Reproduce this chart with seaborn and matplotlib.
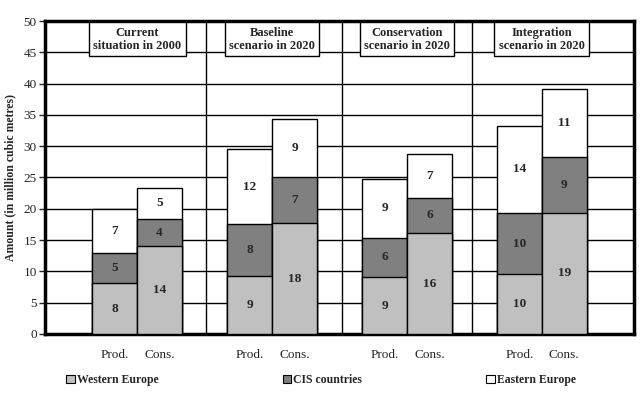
import pandas as pd
import seaborn as sns
import matplotlib.pyplot as plt
from matplotlib.patches import Patch

# data (million cubic metres)
scenarios = ["Current\nsituation in 2000", "Baseline\nscenario in 2020",
             "Conservation\nscenario in 2020", "Integration\nscenario in 2020"]
kinds = ["Prod.", "Cons."]
western = [8.1, 14.1, 9.3, 17.7, 9.05, 16.1, 9.6, 19.4]
cis = [4.8, 4.2, 8.2, 7.4, 6.35, 5.7, 9.7, 8.8]
eastern = [7.0, 5.1, 12.0, 9.2, 9.4, 6.9, 14.0, 10.9]
series = ["Western Europe", "CIS countries", "Eastern Europe"]
colors = ["#c0c0c0", "#808080", "#ffffff"]

rows = []
for i in range(len(western)):
    g, k = divmod(i, 2)
    rows.append({"scenario": scenarios[g], "kind": kinds[k],
                 "pos": 3 * g + (k - 0.5),
                 "Western Europe": western[i], "CIS countries": cis[i],
                 "Eastern Europe": eastern[i]})
df = pd.DataFrame(rows)
df["cum_w"] = df["Western Europe"]
df["cum_c"] = df["cum_w"] + df["CIS countries"]
df["cum_e"] = df["cum_c"] + df["Eastern Europe"]

sns.set_style("white")
plt.rcParams["font.family"] = ["Liberation Serif", "DejaVu Serif"]

fig = plt.figure(figsize=(6.42, 3.94), dpi=100)
ax = fig.add_axes([0.0701, 0.1523, 0.9174, 0.7944])

# stacked bars drawn as overlapping cumulative totals, largest first
for col, c in zip(["cum_e", "cum_c", "cum_w"], colors[::-1]):
    sns.barplot(data=df, x="pos", y=col, native_scale=True, width=1,
                color=c, saturation=1, edgecolor="black", linewidth=1,
                errorbar=None, ax=ax, zorder=3)

# segment labels
for _, r in df.iterrows():
    bottom = 0
    for s in series:
        v = r[s]
        ax.text(r["pos"], bottom + v / 2, f"{round(v):d}", ha="center",
                va="center", fontsize=9.5, fontweight="bold", zorder=5)
        bottom += v

ax.set_xlim(-2.05, 11.05)
ax.set_ylim(0, 50)
ax.set_yticks(range(0, 51, 5))
ax.set_xticks(df["pos"])
ax.set_xticklabels(df["kind"], fontsize=9.5)
ax.tick_params(axis="x", length=0, pad=11)
ax.tick_params(axis="y", length=4, width=1, direction="out", left=True,
               labelsize=9.5, pad=2)
ax.set_xlabel("")
ax.set_ylabel("Amount (in million cubic metres)", fontsize=8.5,
              fontweight="bold", labelpad=5)
ax.yaxis.grid(True, color="black", linewidth=1)
ax.set_axisbelow(True)
for xd in [1.52, 4.56, 7.44]:
    ax.axvline(xd, color="black", linewidth=1, zorder=1)
for sp in ax.spines.values():
    sp.set_linewidth(2.5)
    sp.set_color("black")

# scenario boxes
for g, name in enumerate(scenarios):
    ax.text(3 * g, 47.1, name, ha="center", va="center", fontsize=9,
            fontweight="bold", linespacing=1.1, zorder=6,
            bbox=dict(boxstyle="square,pad=0.35", fc="white", ec="black", lw=1))

handles = [Patch(facecolor=c, edgecolor="black", linewidth=0.8) for c in colors]
fig.legend(handles, series, loc="center", bbox_to_anchor=(0.5, 0.035), ncol=3,
           frameon=False, prop={"weight": "bold", "size": 8.5},
           handlelength=0.75, handleheight=0.75, handletextpad=0.15,
           columnspacing=10.5)

fig.savefig("out.png", dpi=100)
